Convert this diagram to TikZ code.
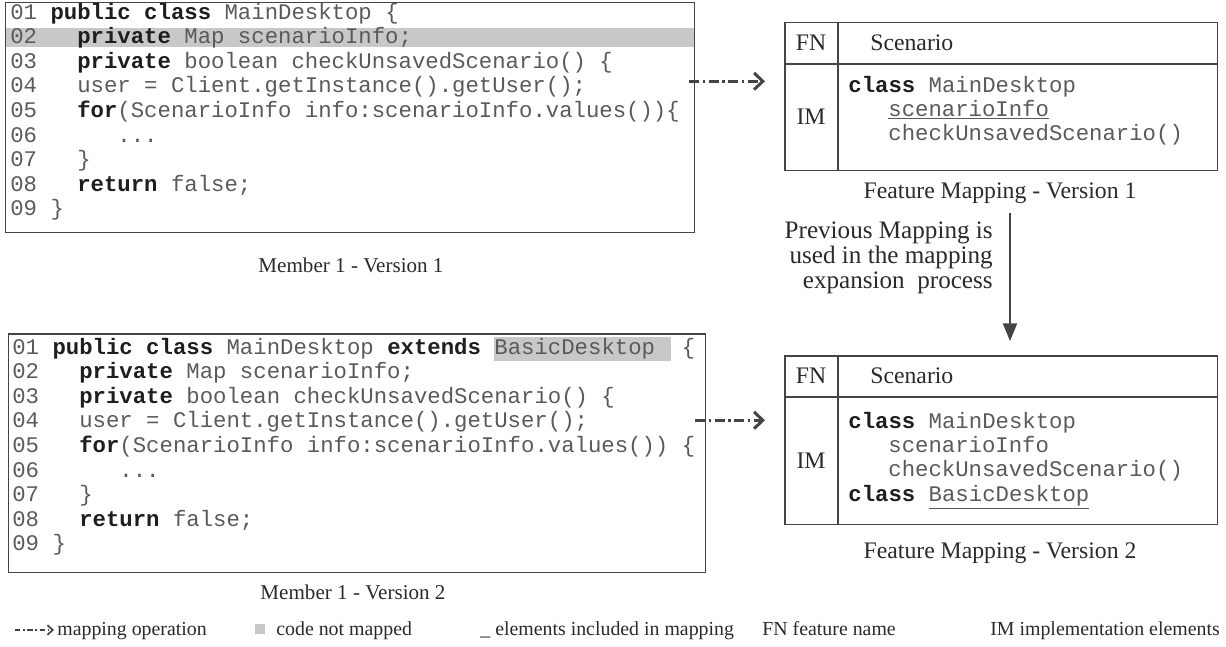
\documentclass[tikz,border=0pt]{standalone}
\usepackage{fontspec}
\setmainfont{Liberation Serif}
\setmonofont{Liberation Mono}
\usepackage{xcolor}
\usetikzlibrary{arrows.meta}

\definecolor{codegray}{HTML}{5A5A5A}
\definecolor{kwgray}{HTML}{1E1E1E}
\definecolor{hlgray}{HTML}{C8C8C8}
\definecolor{linegray}{HTML}{444444}
\definecolor{txtgray}{HTML}{2A2A2A}

\newcommand{\kw}[1]{{\bfseries\color{kwgray}#1}}

\tikzset{
  codeline/.style={anchor=mid west, inner sep=0pt, text=codegray,
    font=\ttfamily\fontsize{12.7}{14}\selectfont},
  frame/.style={draw=linegray, line width=0.85pt, inner sep=0pt, anchor=north west},
  rule/.style={draw=linegray, line width=0.85pt},
  caption/.style={inner sep=0pt, text=txtgray, font=\fontsize{13.5}{13.9}\selectfont},
  legend/.style={inner sep=0pt, anchor=base west, text=txtgray, font=\fontsize{11.3}{13}\selectfont},
  maparrow/.style={draw=linegray, line width=1.7pt,
    dash pattern=on 5.5pt off 2.2pt on 1.2pt off 2.2pt,
    -{Straight Barb[length=5pt,width=9.5pt]}},
  legarrow/.style={maparrow, line width=1pt,
    dash pattern=on 3pt off 1.5pt on 1pt off 1.5pt,
    -{Straight Barb[length=3pt,width=5.5pt]}},
  prevarrow/.style={draw=linegray, line width=0.9pt, -{Triangle[length=10pt,width=8pt]}}
}

\begin{document}
\begin{tikzpicture}[x=0.02cm, y=-0.02cm]
\useasboundingbox (0,0) rectangle (1226,646);

\fill[hlgray] (5,28) rectangle (694,47);
\node (mem1) [frame, minimum width=13.78cm, minimum height=4.6cm] at (5,2) {};
\foreach \lno/\ind/\src [count=\i from 0] in {
    01/3/{\kw{public class} MainDesktop \{},
    02/5/{\kw{private} Map scenarioInfo;},
    03/5/{\kw{private} boolean checkUnsavedScenario() \{},
    04/5/{user = Client.getInstance().getUser();},
    05/5/{\kw{for}(ScenarioInfo info:scenarioInfo.values())\{},
    06/8/{...},
    07/5/{\}},
    08/5/{\kw{return} false;},
    09/3/{\}}} {
  \node (m1n\lno) [codeline] at (10, 15+24.6*\i) {\lno};
  \node (m1c\lno) [codeline] at (10+\ind*13.39, 15+24.6*\i) {\src};
}
\node (mem1cap) [caption, font=\fontsize{12}{14}\selectfont] at (351,265) {Member 1 - Version 1};

\fill[hlgray] (494,337) rectangle (671,361);
\node (mem2) [frame, minimum width=13.94cm, minimum height=4.78cm] at (8,333) {};
\foreach \lno/\ind/\src [count=\i from 0] in {
    01/3/{\kw{public class} MainDesktop \kw{extends} BasicDesktop\ \ \{},
    02/5/{\kw{private} Map scenarioInfo;},
    03/5/{\kw{private} boolean checkUnsavedScenario() \{},
    04/5/{user = Client.getInstance().getUser();},
    05/5/{\kw{for}(ScenarioInfo info:scenarioInfo.values()) \{},
    06/8/{...},
    07/5/{\}},
    08/5/{\kw{return} false;},
    09/3/{\}}} {
  \node (m2n\lno) [codeline] at (12, 350+24.6*\i) {\lno};
  \node (m2c\lno) [codeline] at (12+\ind*13.39, 350+24.6*\i) {\src};
}
\node (mem2cap) [caption, font=\fontsize{12}{14}\selectfont] at (353,592) {Member 1 - Version 2};

\node (fm1) [frame, minimum width=8.66cm, minimum height=2.96cm] at (784,22) {};
\draw[rule] ([xshift=1.08cm]fm1.north west) -- ([xshift=1.08cm]fm1.south west);
\draw[rule] ([yshift=-0.84cm]fm1.north west) -- ([yshift=-0.84cm]fm1.north east);
\node (fm1fn) [caption] at (811,43) {FN};
\node (fm1sc) [caption, anchor=west] at (870,43) {Scenario};
\node (fm1im) [caption] at (811,117) {IM};
\node (fm1l1) [codeline] at (848,88) {\kw{class} MainDesktop};
\node (fm1l2) [codeline] at (888,112) {\underline{scenarioInfo}};
\node (fm1l3) [codeline] at (888,136) {checkUnsavedScenario()};
\node (fm1cap) [caption] at (1000,193) {Feature Mapping - Version 1};

\node (fm2) [frame, minimum width=8.66cm, minimum height=3.38cm] at (784,355) {};
\draw[rule] ([xshift=1.08cm]fm2.north west) -- ([xshift=1.08cm]fm2.south west);
\draw[rule] ([yshift=-0.84cm]fm2.north west) -- ([yshift=-0.84cm]fm2.north east);
\node (fm2fn) [caption] at (811,376) {FN};
\node (fm2sc) [caption, anchor=west] at (870,376) {Scenario};
\node (fm2im) [caption] at (811,461) {IM};
\node (fm2l1) [codeline] at (848,424) {\kw{class} MainDesktop};
\node (fm2l2) [codeline] at (888,448) {scenarioInfo};
\node (fm2l3) [codeline] at (888,472) {checkUnsavedScenario()};
\node (fm2l4) [codeline] at (848,497) {\kw{class} \underline{BasicDesktop}};
\node (fm2cap) [caption] at (1000,553) {Feature Mapping - Version 2};

\draw[maparrow] ([xshift=-0.12cm,yshift=0.1cm]mem1.east |- fm1l1.west)
  -- ([xshift=-0.38cm,yshift=0.1cm]fm1.west |- fm1l1.west);
\draw[maparrow] ([xshift=-0.22cm,yshift=0.04cm]mem2.east |- fm2l1.west)
  -- ([xshift=-0.38cm,yshift=0.04cm]fm2.west |- fm2l1.west);

\node (prev) [caption, align=right, anchor=east, font=\fontsize{14.3}{14.2}\selectfont] at (993,258)
  {Previous Mapping is\\used in the mapping\\expansion\ \ process};
\coordinate (vtop) at (1010,213);
\coordinate (vbot) at (1010,341);
\draw[prevarrow] (vtop) -- (vbot);

\node (lg1) [legend] at (57,635) {mapping operation};
\draw[legarrow] ([xshift=-0.84cm,yshift=0.1cm]lg1.base west) -- ([xshift=-0.06cm,yshift=0.1cm]lg1.base west);
\node (lg2sq) [fill=hlgray, minimum size=0.2cm, inner sep=0pt] at (260,629) {};
\node (lg2) [legend] at (276,635) {code not mapped};
\node (lg3) [legend] at (480,635) {\_ elements included in mapping};
\node (lg4) [legend] at (762,635) {FN feature name};
\node (lg5) [legend] at (990,635) {IM implementation elements};
\end{tikzpicture}
\end{document}
